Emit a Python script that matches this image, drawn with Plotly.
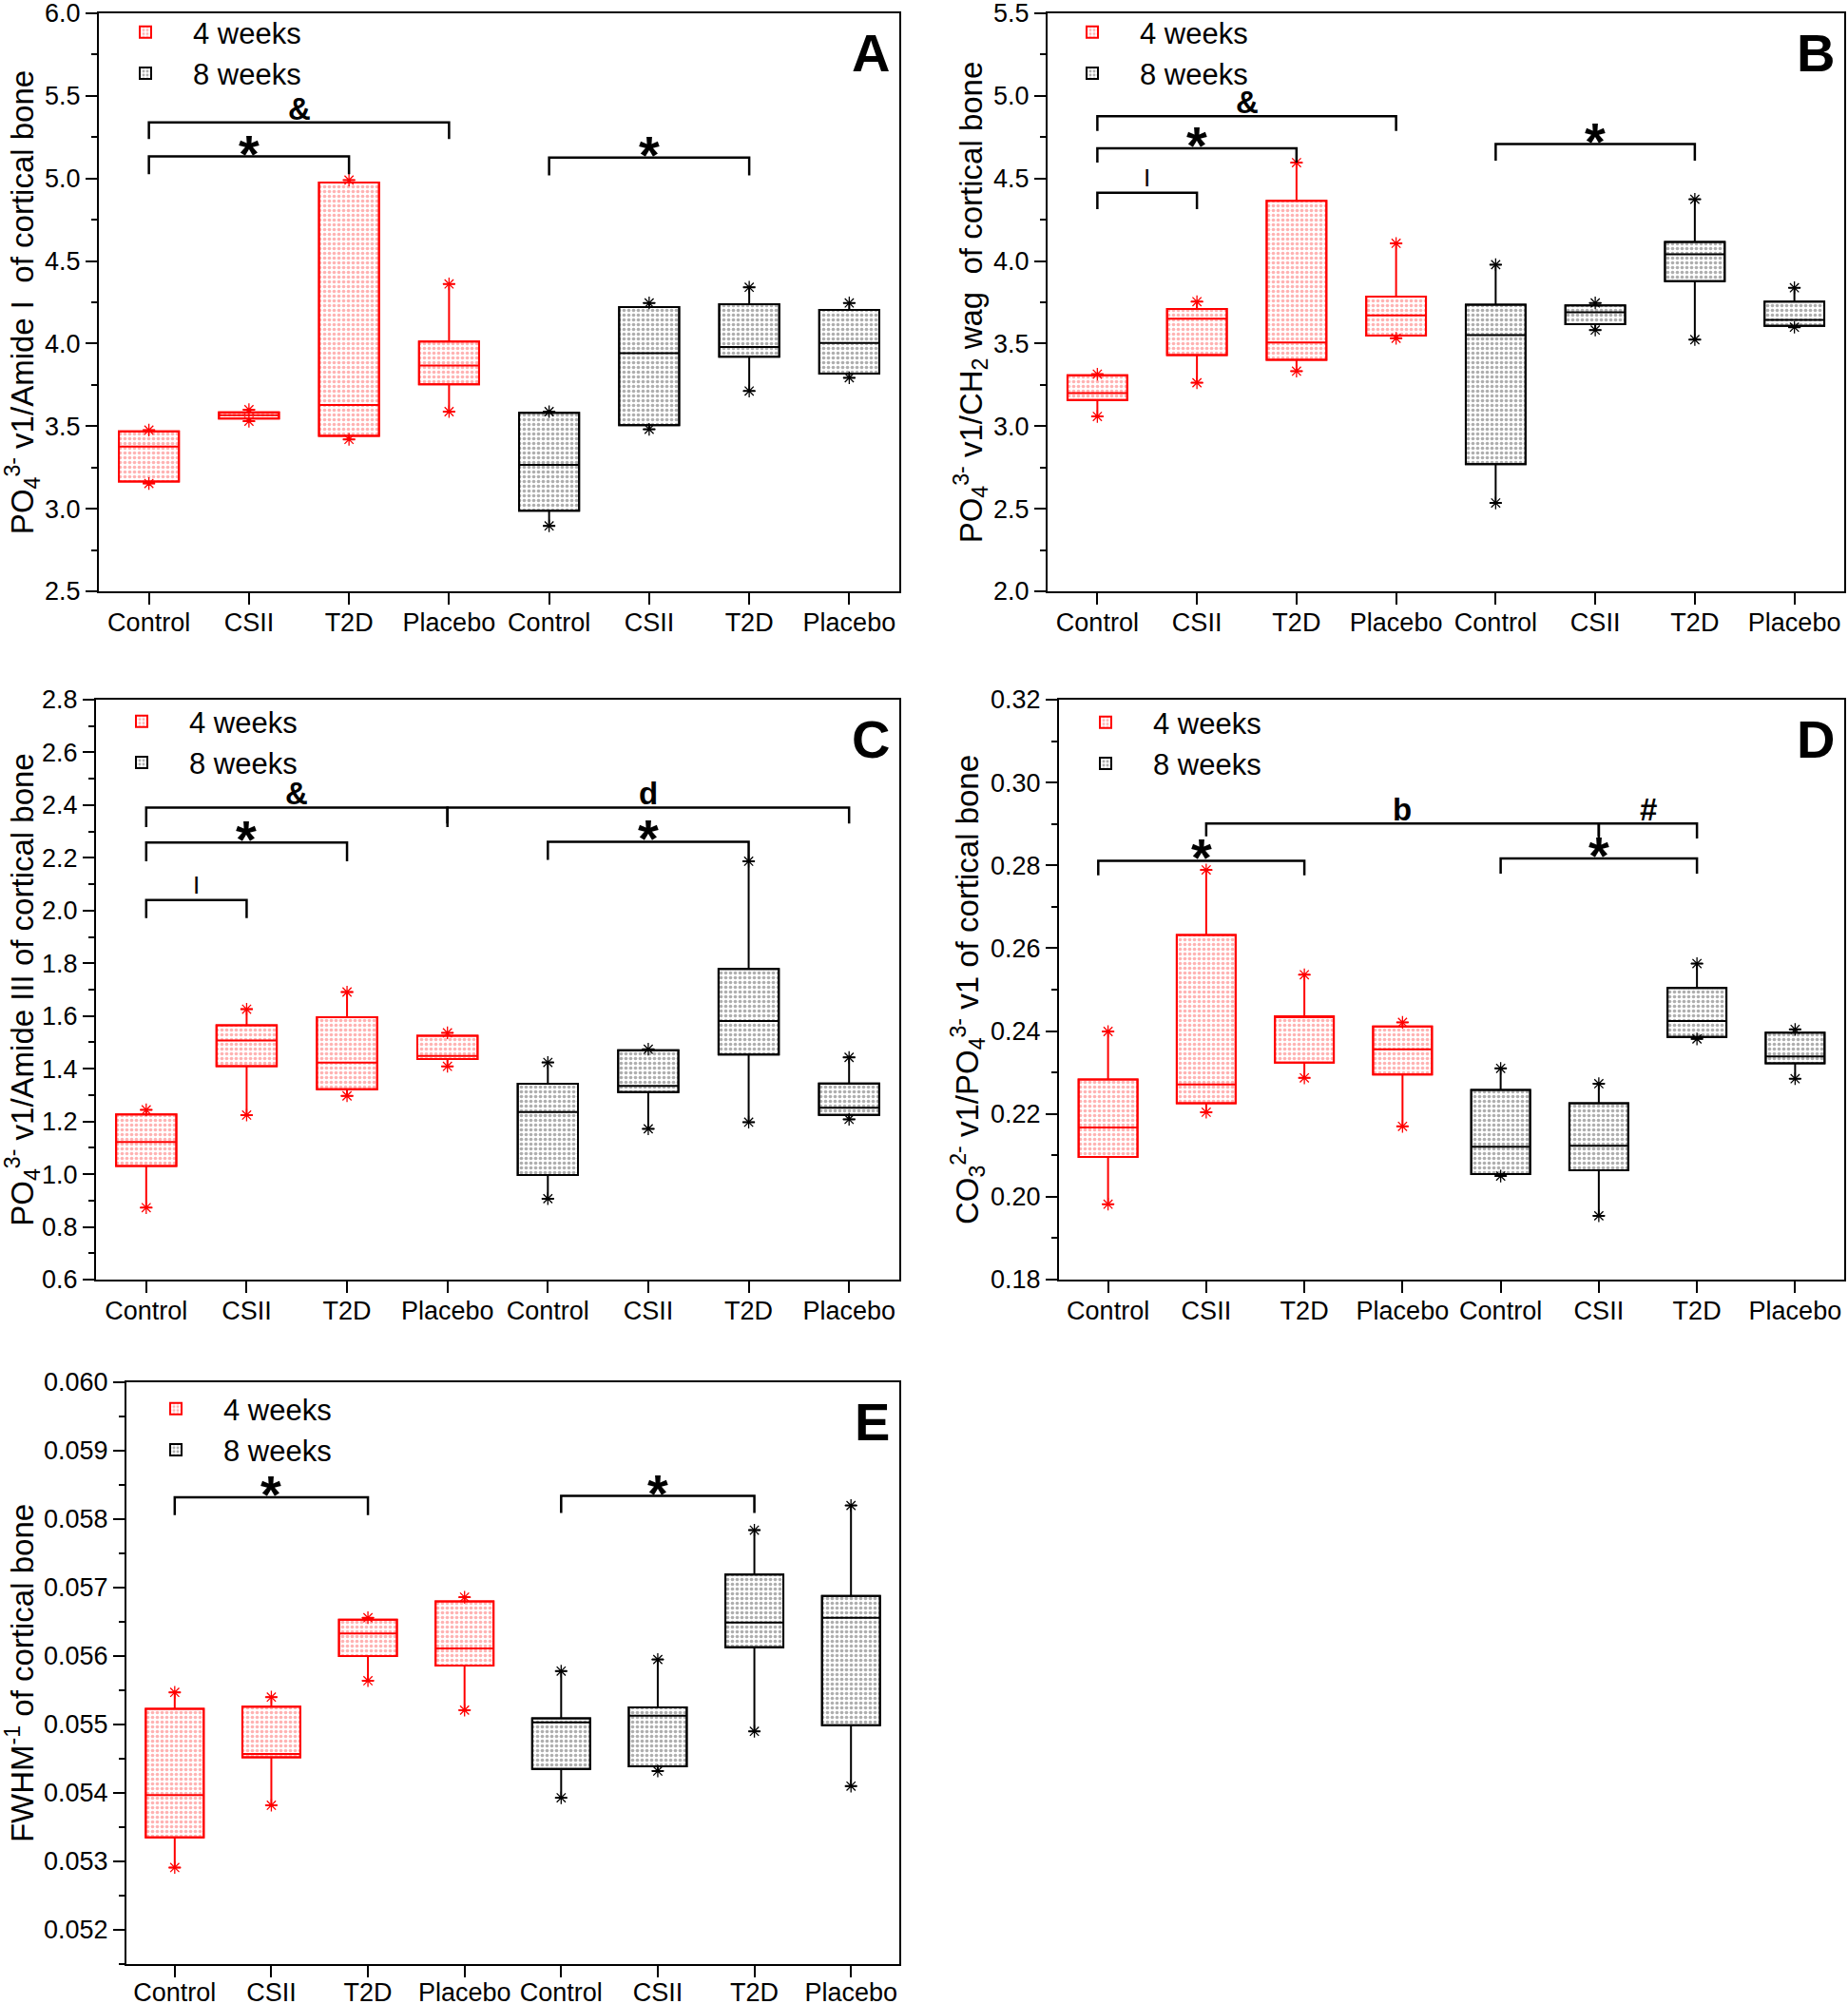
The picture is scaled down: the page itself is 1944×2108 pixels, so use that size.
import plotly.graph_objects as go

# ---------------- data ----------------
categories = ["Control", "CSII", "T2D", "Placebo", "Control", "CSII", "T2D", "Placebo"]
positions = [1, 2, 3, 4, 5, 6, 7, 8]
group_names = ["4 weeks", "8 weeks"]   # first 4 boxes = 4 weeks, last 4 = 8 weeks

# Panel A : PO4 v1 / Amide I
A_q1  = [3.165, 3.546, 3.441, 3.753, 2.988, 3.506, 3.920, 3.818]
A_med = [3.377, 3.566, 3.628, 3.867, 3.265, 3.942, 3.980, 4.004]
A_q3  = [3.469, 3.583, 4.976, 4.012, 3.581, 4.221, 4.239, 4.204]
A_min = [3.153, 3.530, 3.420, 3.588, 2.896, 3.481, 3.713, 3.793]
A_max = [3.476, 3.600, 4.990, 4.361, 3.588, 4.246, 4.341, 4.246]

# Panel B : PO4 v1 / CH2 wag
B_q1  = [3.158, 3.430, 3.402, 3.549, 2.770, 3.617, 3.878, 3.607]
B_med = [3.200, 3.651, 3.507, 3.671, 3.552, 3.689, 4.040, 3.644]
B_q3  = [3.308, 3.709, 4.364, 3.784, 3.736, 3.731, 4.115, 3.754]
B_min = [3.059, 3.263, 3.333, 3.532, 2.535, 3.582, 3.524, 3.599]
B_max = [3.315, 3.754, 4.596, 4.107, 3.978, 3.746, 4.374, 3.838]

# Panel C : PO4 v1 / Amide III
C_q1  = [1.031, 1.410, 1.322, 1.437, 0.997, 1.311, 1.454, 1.225]
C_med = [1.122, 1.507, 1.423, 1.448, 1.236, 1.335, 1.581, 1.252]
C_q3  = [1.227, 1.565, 1.595, 1.525, 1.343, 1.470, 1.778, 1.344]
C_min = [0.873, 1.224, 1.297, 1.409, 0.907, 1.172, 1.197, 1.208]
C_max = [1.244, 1.626, 1.691, 1.536, 1.424, 1.474, 2.187, 1.443]

# Panel D : CO3 v1 / PO4 v1
D_q1  = [0.2096, 0.2226, 0.2324, 0.2295, 0.2055, 0.2064, 0.2386, 0.2322]
D_med = [0.2167, 0.2271, 0.2434, 0.2356, 0.2121, 0.2123, 0.2424, 0.2339]
D_q3  = [0.2283, 0.2632, 0.2436, 0.2411, 0.2258, 0.2226, 0.2504, 0.2396]
D_min = [0.1982, 0.2204, 0.2287, 0.2170, 0.2050, 0.1954, 0.2381, 0.2285]
D_max = [0.2399, 0.2789, 0.2536, 0.2421, 0.2310, 0.2273, 0.2563, 0.2404]

# Panel E : FWHM^-1
E_q1  = [0.05335, 0.05452, 0.05600, 0.05586, 0.05435, 0.05439, 0.05613, 0.05499]
E_med = [0.05397, 0.05457, 0.05633, 0.05611, 0.05503, 0.05513, 0.05649, 0.05656]
E_q3  = [0.05523, 0.05526, 0.05653, 0.05680, 0.05509, 0.05525, 0.05719, 0.05688]
E_min = [0.05291, 0.05382, 0.05564, 0.05521, 0.05393, 0.05432, 0.05490, 0.05410]
E_max = [0.05547, 0.05540, 0.05656, 0.05686, 0.05578, 0.05595, 0.05784, 0.05820]

# significance brackets: (left group, right group, bar level, leg end, label)
A_brackets = [(1, 4, 5.340, 5.238, "&"), (1, 3, 5.133, 5.026, "*"), (5, 7, 5.126, 5.018, "*")]
B_brackets = [(1, 4, 4.877, 4.787, "&"), (1, 3, 4.683, 4.596, "*"), (1, 2, 4.414, 4.314, "I"),
              (5, 7, 4.708, 4.608, "*")]
C_brackets = [(1, 4, 2.391, 2.317, "&"), (4, 8, 2.391, 2.330, "d"), (1, 3, 2.258, 2.187, "*"),
              (1, 2, 2.040, 1.971, "I"), (5, 7, 2.261, 2.192, "*")]
D_brackets = [(2, 6, 0.2901, 0.2870, "b"), (6, 7, 0.2901, 0.2865, "#"), (0.9, 3, 0.2811, 0.2776, "*"),
              (5, 7, 0.2817, 0.2780, "*")]
E_brackets = [(1, 3, 0.05832, 0.05806, "*"), (5, 7, 0.05834, 0.05809, "*")]

# ---------------- styling ----------------
FONT = "Liberation Sans, Arial, sans-serif"
RED = "#ff0000"
BLACK = "#000000"
group_line = [RED, BLACK]
group_dot = ["rgba(255,50,50,0.75)", "rgba(40,40,40,0.75)"]

panels = [
    dict(letter="A", q1=A_q1, med=A_med, q3=A_q3, lo=A_min, hi=A_max, br=A_brackets,
         rng=[2.5, 6.0], dtick=0.5, fmt=".1f",
         title="PO<sub>4</sub><sup>3-</sup> v1/Amide I  of cortical bone",
         px=(104, 946), py=(14, 622), leg=(103, 7), xstand=-4),
    dict(letter="B", q1=B_q1, med=B_med, q3=B_q3, lo=B_min, hi=B_max, br=B_brackets,
         rng=[2.0, 5.5], dtick=0.5, fmt=".1f",
         title="PO<sub>4</sub><sup>3-</sup> v1/CH<sub>2</sub> wag  of cortical bone",
         px=(1102, 1940), py=(14, 622), leg=(1099, 7), xstand=-4),
    dict(letter="C", q1=C_q1, med=C_med, q3=C_q3, lo=C_min, hi=C_max, br=C_brackets,
         rng=[0.6, 2.8], dtick=0.2, fmt=".1f",
         title="PO<sub>4</sub><sup>3-</sup> v1/Amide III of cortical bone",
         px=(101, 946), py=(736, 1346), leg=(99, 732), xstand=-4),
    dict(letter="D", q1=D_q1, med=D_med, q3=D_q3, lo=D_min, hi=D_max, br=D_brackets,
         rng=[0.18, 0.32], dtick=0.02, fmt=".2f",
         title="CO<sub>3</sub><sup>2-</sup> v1/PO<sub>4</sub><sup>3-</sup> v1 of cortical bone",
         px=(1114, 1940), py=(736, 1346), leg=(1113, 733), xstand=-4),
    dict(letter="E", q1=E_q1, med=E_med, q3=E_q3, lo=E_min, hi=E_max, br=E_brackets,
         rng=[0.0515, 0.060], dtick=0.001, fmt=".3f",
         title="FWHM<sup>-1</sup> of cortical bone",
         px=(133, 946), py=(1454, 2066), leg=(135, 1455), xstand=-7),
]

W, H = 1944, 2108
fig = go.Figure()
layout = dict(width=W, height=H, margin=dict(l=0, r=0, t=0, b=0, pad=0, autoexpand=False),
              paper_bgcolor="white", plot_bgcolor="white",
              barmode="overlay", boxmode="overlay",
              font=dict(family=FONT, color="black", size=27))
shapes, annotations = [], []

for i, p in enumerate(panels):
    n = i + 1
    xa = "x" if n == 1 else f"x{n}"
    ya = "y" if n == 1 else f"y{n}"
    legname = "legend" if n == 1 else f"legend{n}"
    for g in range(2):
        sl = slice(4 * g, 4 * g + 4)
        xs = positions[sl]
        q1 = p["q1"][sl]; q3 = p["q3"][sl]
        fig.add_trace(go.Bar(
            x=xs, y=[b - a for a, b in zip(q1, q3)], base=q1, width=0.6,
            name=group_names[g], legend=legname, showlegend=True,
            marker=dict(color="white", line=dict(color=group_line[g], width=2),
                        pattern=dict(shape=".", fgcolor=group_dot[g], bgcolor="white",
                                     size=5, solidity=0.42)),
            xaxis=xa, yaxis=ya, hoverinfo="skip"))
        fig.add_trace(go.Box(
            x=xs, q1=q1, median=p["med"][sl], q3=q3,
            lowerfence=p["lo"][sl], upperfence=p["hi"][sl],
            orientation="v", width=0.6, whiskerwidth=0.2, boxpoints=False,
            fillcolor="rgba(0,0,0,0)", line=dict(color=group_line[g], width=2),
            showlegend=False, xaxis=xa, yaxis=ya, hoverinfo="skip"))
        fig.add_trace(go.Scatter(
            x=xs + xs, y=p["lo"][sl] + p["hi"][sl], mode="markers",
            marker=dict(symbol="asterisk-open", size=11, color=group_line[g],
                        line=dict(color=group_line[g], width=1.3)),
            showlegend=False, xaxis=xa, yaxis=ya, hoverinfo="skip"))

    x0, x1 = p["px"]; y0, y1 = p["py"]
    layout["xaxis" if n == 1 else f"xaxis{n}"] = dict(
        domain=[x0 / W, x1 / W], anchor=ya, range=[0.5, 8.5], automargin=False,
        tickmode="array", tickvals=positions, ticktext=categories,
        ticks="outside", ticklen=12, tickwidth=2, tickcolor="black",
        ticklabelstandoff=p["xstand"], ticklabeloverflow="allow",
        showline=True, linewidth=2, linecolor="black", mirror=True,
        showgrid=False, zeroline=False, tickfont=dict(size=27, family=FONT))
    layout["yaxis" if n == 1 else f"yaxis{n}"] = dict(
        domain=[1 - y1 / H, 1 - y0 / H], anchor=xa, range=p["rng"], automargin=False,
        tick0=0, dtick=p["dtick"], tickformat=p["fmt"], ticklabeloverflow="allow",
        ticks="outside", ticklen=12, tickwidth=2, tickcolor="black",
        minor=dict(ticks="outside", ticklen=6, tickwidth=2, tickcolor="black",
                   tick0=0, dtick=p["dtick"] / 2, showgrid=False),
        showline=True, linewidth=2, linecolor="black", mirror=True,
        showgrid=False, zeroline=False, tickfont=dict(size=27, family=FONT),
        title=dict(text=p["title"], font=dict(size=33, family=FONT), standoff=2))
    lx, ly = p["leg"]
    layout[legname] = dict(x=lx / W, y=1 - ly / H, xanchor="left", yanchor="top",
                           bgcolor="rgba(0,0,0,0)", borderwidth=0,
                           font=dict(size=31, family=FONT), itemwidth=90,
                           tracegroupgap=0, traceorder="normal")

    # panel letter
    annotations.append(dict(text=f"<b>{p['letter']}</b>", xref=f"{xa} domain", yref=f"{ya} domain",
                            x=1, y=1, xanchor="right", yanchor="top", xshift=-8, yshift=-8,
                            showarrow=False, font=dict(size=56, family=FONT, color="black")))
    # significance brackets
    for (bx0, bx1, by, bleg, lab) in p["br"]:
        shapes.append(dict(type="path", xref=xa, yref=ya,
                           path=f"M{bx0},{bleg} L{bx0},{by} L{bx1},{by} L{bx1},{bleg}",
                           line=dict(color="black", width=2.5)))
        if lab == "*":
            txt, size, ysh = "<b>*</b>", 56, -30
        elif lab == "I":
            txt, size, ysh = "I", 26, -1
        else:
            txt, size, ysh = f"<b>{lab}</b>", 33, -6
        annotations.append(dict(text=txt, xref=xa, yref=ya, x=(bx0 + bx1) / 2, y=by,
                                xanchor="center", yanchor="bottom", yshift=ysh,
                                showarrow=False,
                                font=dict(size=size, family=FONT, color="black")))

layout["shapes"] = shapes
layout["annotations"] = annotations
fig.update_layout(**layout)

fig.write_html("out.html", config={"displayModeBar": False},
               post_script="document.body.style.margin='0';document.body.style.overflow='hidden';")
